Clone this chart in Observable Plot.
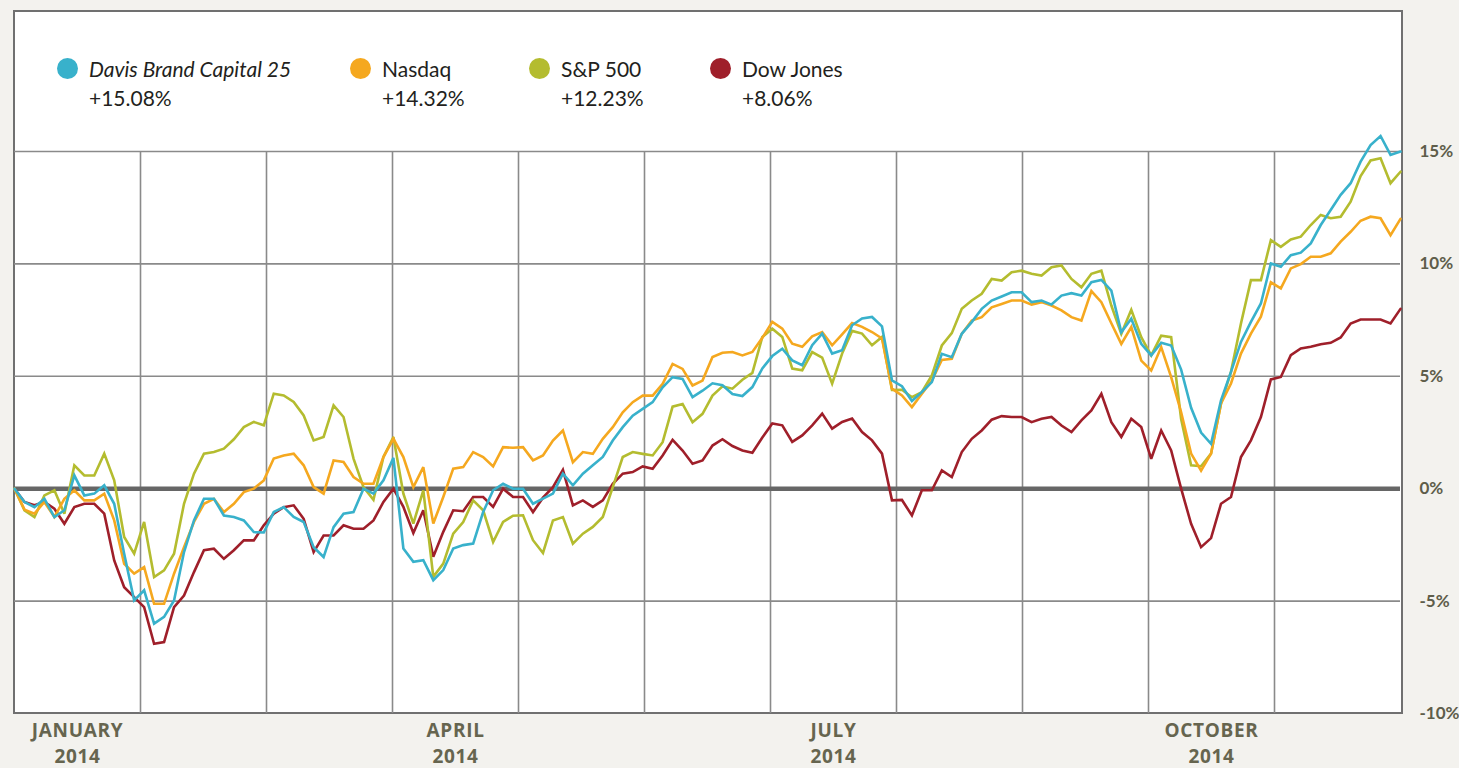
<!DOCTYPE html>
<html>
<head>
<meta charset="utf-8">
<script src="https://cdn.jsdelivr.net/npm/d3@7"></script>
<script src="https://cdn.jsdelivr.net/npm/@observablehq/plot@0.6"></script>
<style>
  html, body { margin: 0; padding: 0; background: #f3f2ee; }
  #wrap { position: relative; width: 1459px; height: 768px; overflow: hidden; }
  #frame { position: absolute; left: 13px; top: 10px; width: 1386px; height: 700px; background: #fff; border: 2px solid #707070; }
  #chart { position: absolute; left: 0; top: 0; }
  #chart svg { display: block; }
  #chart g[aria-label="text"] text { letter-spacing: 0.7px; }
  .item { position: absolute; top: 54px; font-family: Lato, "Open Sans", sans-serif; font-size: 21px; line-height: 29px; color: #231f20; white-space: nowrap; }
  .item .name.italic { font-style: italic; }
  .dot { position: absolute; left: -32px; top: 4px; width: 21px; height: 21px; border-radius: 50%; }
</style>
</head>
<body>
<div id="wrap">
  <div id="frame"></div>
  <div id="chart"></div>
  <div id="legend"></div>
</div>
<script>
// ---- data ----
const seriesNames = ["Davis Brand Capital 25", "Nasdaq", "S&P 500", "Dow Jones"];
const seriesReturns = ["+15.08%", "+14.32%", "+12.23%", "+8.06%"];
const seriesColors = ["#38b1cb", "#f5a81f", "#b4bc2f", "#9f1f2a"];

const davis = [0,-0.59,-0.82,-0.45,-1.26,-0.96,0.59,-0.30,-0.22,0.15,-0.67,-2.89,-4.97,-4.52,-6.0,-5.7,-4.97,-2.82,-1.41,-0.45,
  -0.45,-1.19,-1.26,-1.41,-1.93,-1.95,-1.04,-0.82,-1.26,-1.48,-2.6,-3.04,-1.71,-1.11,-1.04,0,-0.22,0.37,1.37,-2.66,
  -3.25,-3.18,-4.07,-3.62,-2.66,-2.51,-2.44,-1.04,-0.07,0.22,0,0,-0.67,-0.44,-0.22,0.67,0.15,0.67,1.04,1.41,
  2.14,2.74,3.25,3.55,3.85,4.51,4.96,4.88,4.07,4.36,4.69,4.6,4.21,4.12,4.52,5.35,5.9,6.23,5.71,5.49,
  6.38,6.9,6.01,6.16,7.27,7.57,7.64,7.22,4.82,4.56,3.9,4.3,4.74,6.0,5.85,6.89,7.41,8.0,8.37,8.55,
  8.74,8.74,8.3,8.37,8.19,8.59,8.7,8.59,9.19,9.29,8.81,6.96,7.56,6.44,5.93,6.49,6.37,5.3,3.6,2.5,
  2.0,3.93,5.2,6.53,7.42,8.24,10.02,9.87,10.39,10.5,10.91,11.73,12.4,13.07,13.59,14.55,15.29,15.69,14.85,15.0];

const nasdaq = [0,-0.93,-1.11,-0.59,-1.26,-0.45,-0.07,-0.52,-0.52,-0.22,-1.41,-3.34,-3.78,-3.49,-5.12,-5.12,-3.78,-2.6,-1.48,-0.67,
  -0.45,-1.04,-0.67,-0.15,0,0.37,1.34,1.48,1.56,1.04,0.07,-0.22,1.26,1.19,0.52,0.22,0.22,1.41,2.22,1.41,
  0.07,0.96,-1.55,-0.37,0.89,0.96,1.63,1.41,0.99,1.85,1.82,1.85,1.26,1.48,2.14,2.59,1.18,1.63,1.55,2.22,
  2.74,3.4,3.85,4.14,4.14,4.66,5.55,5.33,4.59,4.81,5.86,6.05,6.08,5.93,6.08,6.71,7.42,7.12,6.45,6.31,
  6.78,6.97,6.38,6.87,7.37,7.2,6.97,6.68,4.45,4.15,3.63,4.22,4.81,5.73,5.78,6.89,7.48,7.63,8.07,8.22,
  8.37,8.37,8.19,8.3,8.15,7.93,7.63,7.48,8.79,8.3,7.36,6.44,7.19,5.7,5.26,6.3,4.96,3.4,1.56,0.8,
  1.56,3.79,4.68,6.01,6.9,7.65,9.18,8.91,9.8,9.99,10.32,10.32,10.47,10.99,11.43,11.92,12.1,12.03,11.28,12.0];

const sp500 = [0,-0.96,-1.26,-0.30,-0.07,-1.11,1.04,0.59,0.59,1.56,0.37,-2.15,-2.89,-1.48,-3.93,-3.63,-2.89,-0.67,0.67,1.56,
  1.63,1.78,2.2,2.74,2.97,2.82,4.23,4.15,3.86,3.26,2.15,2.3,3.71,3.19,1.34,0.07,-0.49,1.41,2.3,-0.22,
  -1.55,-0.07,-3.92,-3.33,-2.0,-1.48,-0.52,-0.96,-2.37,-1.48,-1.2,-1.18,-2.29,-2.86,-1.41,-1.26,-2.44,-2.0,-1.7,-1.26,
  0.07,1.41,1.63,1.55,1.48,2.07,3.65,3.77,2.96,3.33,4.14,4.55,4.45,4.85,5.15,6.75,7.12,6.75,5.34,5.27,
  6.08,5.83,4.67,6.01,7.02,6.9,6.38,6.75,4.39,4.4,4.07,4.3,5.04,6.37,6.92,8.0,8.37,8.67,9.33,9.26,
  9.63,9.7,9.56,9.48,9.85,9.93,9.33,8.96,9.56,9.7,8.15,6.89,7.96,6.74,5.93,6.81,6.74,3.1,1.04,1.0,
  1.56,3.79,5.2,7.35,9.28,9.28,11.06,10.76,11.09,11.21,11.73,12.18,12.03,12.1,12.77,13.91,14.6,14.7,13.59,14.1];

const dow = [0,-0.59,-0.74,-0.59,-0.89,-1.56,-0.82,-0.67,-0.67,-1.11,-3.19,-4.38,-4.82,-5.27,-6.9,-6.82,-5.27,-4.75,-3.71,-2.74,
  -2.67,-3.12,-2.74,-2.3,-2.3,-1.63,-1.11,-0.82,-0.74,-1.34,-2.82,-2.08,-2.08,-1.63,-1.78,-1.78,-1.41,-0.59,0,-0.81,
  -1.97,-0.96,-3.03,-1.92,-0.96,-1.0,-0.37,-0.37,-0.81,0,-0.37,-0.37,-1.04,-0.4,0.07,0.84,-0.74,-0.52,-0.81,-0.52,
  0.22,0.67,0.74,0.99,0.89,1.48,2.17,1.7,1.11,1.26,1.92,2.2,1.9,1.7,1.6,2.28,2.9,2.82,2.08,2.37,
  2.82,3.34,2.67,2.97,3.12,2.52,2.15,1.56,-0.52,-0.5,-1.19,-0.07,-0.07,0.81,0.52,1.63,2.22,2.59,3.07,3.23,
  3.19,3.19,2.96,3.11,3.19,2.81,2.52,3.04,3.48,4.22,2.96,2.3,3.11,2.74,1.33,2.59,1.7,0,-1.56,-2.6,
  -2.2,-0.67,-0.37,1.41,2.15,3.19,4.86,4.97,5.94,6.24,6.31,6.43,6.49,6.73,7.35,7.53,7.53,7.53,7.35,8.0];

const monthLabels = ["JANUARY", "APRIL", "JULY", "OCTOBER"];
const monthLabelPos = [0.5, 3.5, 6.5, 9.5];   // in months from the start
const yearLabel = "2014";
const monthGrid = [1, 2, 3, 4, 5, 6, 7, 8, 9, 10];
const monthSpan = 11;
const yTicks = [-10, -5, 0, 5, 10, 15];
const yGrid = [-5, 5, 10, 15];

// ---- build table ----
const valuesBySeries = { "Davis Brand Capital 25": davis, "Nasdaq": nasdaq, "S&P 500": sp500, "Dow Jones": dow };
const drawOrder = ["Dow Jones", "S&P 500", "Nasdaq", "Davis Brand Capital 25"];
const rows = [];
for (const name of drawOrder) {
  const vals = valuesBySeries[name];
  vals.forEach((v, i) => rows.push({ series: name, t: i * monthSpan / (vals.length - 1), value: v }));
}

// ---- chart ----
const chart = Plot.plot({
  width: 1459,
  height: 768,
  marginLeft: 14,
  marginRight: 59,
  marginTop: 151,
  marginBottom: 55,
  style: { background: "transparent", fontFamily: "Lato, 'Open Sans', sans-serif", overflow: "visible" },
  x: { domain: [0, monthSpan], axis: null },
  y: { domain: [-10, 15], axis: null },
  color: { domain: seriesNames, range: seriesColors },
  marks: [
    Plot.ruleX(monthGrid, { stroke: "#8a8a8a", strokeWidth: 1.6 }),
    Plot.ruleY(yGrid, { stroke: "#8a8a8a", strokeWidth: 1.6 }),
    Plot.ruleY([0], { stroke: "#666666", strokeWidth: 4.5 }),
    Plot.line(rows, { x: "t", y: "value", z: "series", stroke: "series", strokeWidth: 2.6, strokeLinejoin: "miter", strokeMiterlimit: 3 }),
    Plot.axisY(yTicks, {
      anchor: "right", label: null, tickSize: 0, tickPadding: 19,
      tickFormat: d => d + "%", fontSize: 17, fontWeight: 700, color: "#5e5d4a"
    }),
    Plot.text(monthLabels, {
      x: (d, i) => monthLabelPos[i],
      text: d => d + "\n" + yearLabel,
      frameAnchor: "bottom", lineAnchor: "top", dy: 6, lineHeight: 1.33,
      fontSize: 19, fontWeight: 700, fill: "#66654f", fontFamily: "'Open Sans', sans-serif"
    })
  ]
});
document.getElementById("chart").appendChild(chart);

// ---- legend ----
const legendLeft = [89, 382, 561, 742];
const legend = document.getElementById("legend");
seriesNames.forEach((name, i) => {
  const item = document.createElement("div");
  item.className = "item";
  item.style.left = legendLeft[i] + "px";
  const dot = document.createElement("div");
  dot.className = "dot";
  dot.style.background = seriesColors[i];
  const nm = document.createElement("div");
  nm.className = "name" + (i === 0 ? " italic" : "");
  nm.textContent = name;
  const rt = document.createElement("div");
  rt.textContent = seriesReturns[i];
  item.append(dot, nm, rt);
  legend.appendChild(item);
});
</script>
</body>
</html>
